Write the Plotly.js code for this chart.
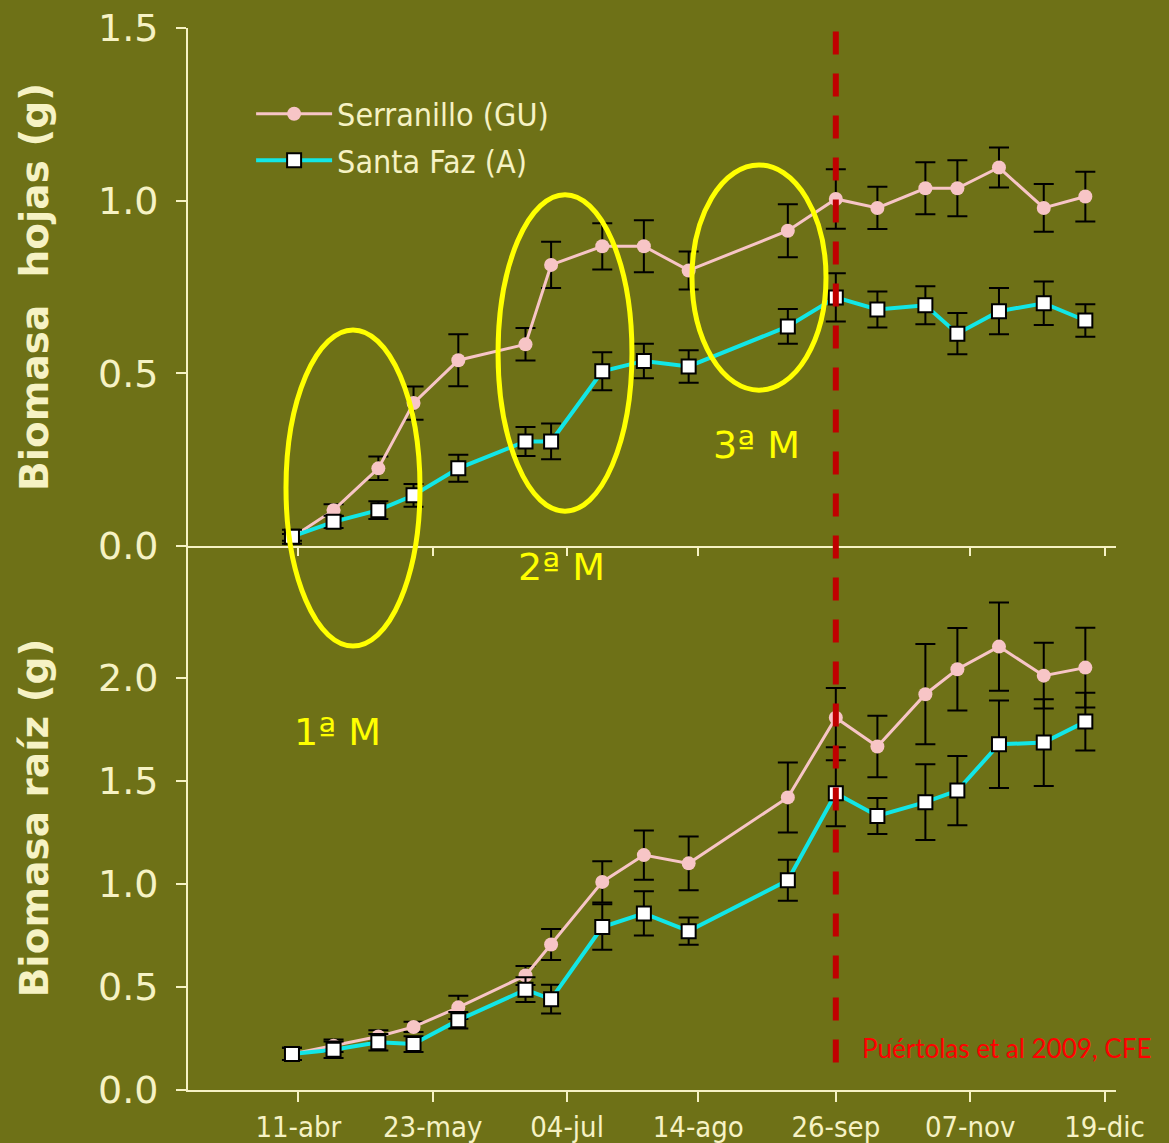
<!DOCTYPE html>
<html><head><meta charset="utf-8">
<script src="https://cdn.plot.ly/plotly-3.0.1.min.js"></script>
<style>html,body{margin:0;padding:0;background:#6E7117;} #chart{width:1169px;height:1143px;}</style>
</head><body><div id="chart"></div>
<script>
// Sampling dates (approximate)
const fechas = ['2007-04-09','2007-04-22','2007-05-06','2007-05-17','2007-05-31','2007-06-21','2007-06-29',
  '2007-07-15','2007-07-28','2007-08-11','2007-09-11','2007-09-26','2007-10-09','2007-10-24','2007-11-03',
  '2007-11-16','2007-11-30','2007-12-13'];

// Biomasa hojas (g)
const hojasSerranillo    = [0.025,0.104,0.225,0.414,0.538,0.584,0.814,0.868,0.868,0.798,0.913,1.005,0.979,1.036,1.036,1.096,0.979,1.012];
const hojasSerranilloErr = [0.010,0.017,0.034,0.048,0.075,0.047,0.067,0.067,0.075,0.055,0.077,0.086,0.061,0.075,0.081,0.058,0.069,0.072];
const hojasSantaFaz      = [0.027,0.070,0.104,0.147,0.225,0.303,0.303,0.506,0.536,0.520,0.636,0.720,0.685,0.697,0.615,0.680,0.703,0.653];
const hojasSantaFazErr   = [0.020,0.018,0.026,0.033,0.039,0.042,0.052,0.055,0.050,0.047,0.050,0.070,0.052,0.055,0.060,0.067,0.063,0.047];

// Biomasa raíz (g)
const raizSerranillo     = [0.175,0.215,0.260,0.306,0.401,0.556,0.706,1.010,1.140,1.100,1.420,1.807,1.667,1.921,2.042,2.152,2.011,2.050];
const raizSerranilloErr  = [0.030,0.030,0.030,0.025,0.056,0.046,0.075,0.100,0.120,0.130,0.170,0.144,0.149,0.243,0.200,0.214,0.160,0.194];
const raizSantaFaz       = [0.175,0.195,0.232,0.223,0.339,0.487,0.441,0.791,0.857,0.771,1.018,1.440,1.330,1.397,1.453,1.678,1.686,1.788];
const raizSantaFazErr    = [0.030,0.040,0.040,0.038,0.040,0.060,0.070,0.110,0.107,0.066,0.100,0.160,0.087,0.184,0.168,0.212,0.210,0.140];

// Axis ticks
const tickFechas    = ['2007-04-11','2007-05-23','2007-07-04','2007-08-14','2007-09-26','2007-11-07','2007-12-19'];
const tickEtiquetas = ['11-abr','23-may','04-jul','14-ago','26-sep','07-nov','19-dic'];
const yTicksHojas   = [0, 0.5, 1, 1.5];
const yTicksRaiz    = [0, 0.5, 1, 1.5, 2];
const xRango = ['2007-03-07 12:00','2007-12-22 14:00'];
const fechaTrasplante = '2007-09-26';

const serieNombres = ['Serranillo (GU)','Santa Faz (A)'];

const bg = '#6E7117';
const cream = '#F6F2C4';
const pink = '#F7C5C6';
const cyan = '#12E6E6';

function errBar(arr){ return {type:'data', array:arr, visible:true, color:'#000000', thickness:2, width:10}; }

const serStyle = {mode:'lines+markers', line:{color:pink, width:3},
  marker:{symbol:'circle', size:14, color:pink, line:{width:0}}};
const sfStyle = {mode:'lines+markers', line:{color:cyan, width:4},
  marker:{symbol:'square', size:14, color:'#FFFFFF', line:{color:'#000000', width:2}}};

const traces = [
  Object.assign({x:fechas, y:hojasSerranillo, error_y:errBar(hojasSerranilloErr), name:serieNombres[0],
    xaxis:'x2', yaxis:'y2', legendgroup:'ser', showlegend:true}, serStyle),
  Object.assign({x:fechas, y:hojasSantaFaz, error_y:errBar(hojasSantaFazErr), name:serieNombres[1],
    xaxis:'x2', yaxis:'y2', legendgroup:'sf', showlegend:true}, sfStyle),
  Object.assign({x:fechas, y:raizSerranillo, error_y:errBar(raizSerranilloErr), name:serieNombres[0],
    xaxis:'x', yaxis:'y', legendgroup:'ser', showlegend:false}, serStyle),
  Object.assign({x:fechas, y:raizSantaFaz, error_y:errBar(raizSantaFazErr), name:serieNombres[1],
    xaxis:'x', yaxis:'y', legendgroup:'sf', showlegend:false}, sfStyle)
];

const tickFontY = {family:'"DejaVu Sans", sans-serif', size:38, color:cream};
const tickFontX = {family:'"DejaVu Sans Condensed", "DejaVu Sans", sans-serif', size:29, color:cream};
const titleFont = {family:'"DejaVu Sans", sans-serif', size:39, color:cream, weight:'bold'};
const markFont = {family:'"DejaVu Sans", sans-serif', size:38, color:'#FFFF00'};

const axisCommon = {showgrid:false, zeroline:false, showline:true, linecolor:cream, linewidth:2,
  ticks:'outside', tickcolor:cream, tickwidth:2};

const ySplit = 0.5122;

const layout = {
  width:1169, height:1143,
  paper_bgcolor:bg, plot_bgcolor:bg,
  margin:{l:188, r:53, t:28, b:53},
  font:{family:'"DejaVu Sans", sans-serif', color:cream},
  xaxis: Object.assign({}, axisCommon, {anchor:'y', type:'date', range:xRango, tickmode:'array',
    tickvals:tickFechas, ticktext:tickEtiquetas, ticklen:10, tickfont:tickFontX}),
  xaxis2: Object.assign({}, axisCommon, {anchor:'y2', type:'date', range:xRango, matches:'x', tickmode:'array',
    tickvals:tickFechas, ticktext:tickEtiquetas, showticklabels:false, ticklen:8}),
  yaxis: Object.assign({}, axisCommon, {domain:[0, ySplit], range:[0, 2.64], tickmode:'array',
    tickvals:yTicksRaiz, tickformat:'.1f', ticklen:10, ticklabelstandoff:10, tickfont:tickFontY,
    title:{text:'Biomasa raíz (g)', font:titleFont, standoff:37}}),
  yaxis2: Object.assign({}, axisCommon, {domain:[ySplit, 1], range:[0, 1.5], tickmode:'array',
    tickvals:yTicksHojas, tickformat:'.1f', ticklen:10, ticklabelstandoff:10, tickfont:tickFontY,
    title:{text:'Biomasa  hojas (g)', font:titleFont, standoff:37}}),
  legend:{x:0.068, y:0.945, xanchor:'left', yanchor:'top', bgcolor:'rgba(0,0,0,0)',
    font:{family:'"DejaVu Sans Condensed", "DejaVu Sans", sans-serif', size:32, color:cream},
    itemwidth:76, tracegroupgap:2},
  shapes:[
    {type:'circle', xref:'paper', yref:'paper', x0:0.1056, x1:0.2500, y0:0.418, y1:0.7156,
      line:{color:'#FFFF00', width:5}},
    {type:'circle', xref:'paper', yref:'paper', x0:0.3341, x1:0.4784, y0:0.545, y1:0.843,
      line:{color:'#FFFF00', width:5}},
    {type:'circle', xref:'paper', yref:'paper', x0:0.5431, x1:0.6875, y0:0.659, y1:0.871,
      line:{color:'#FFFF00', width:5}},
    {type:'line', xref:'x', yref:'paper', x0:fechaTrasplante, x1:fechaTrasplante, y0:0.026, y1:0.998,
      line:{color:'#C00000', width:6, dash:'23px,19px'}}
  ],
  annotations:[
    {text:'1ª M', xref:'paper', yref:'paper', x:0.1616, y:0.337, xanchor:'center', yanchor:'middle',
      showarrow:false, font:markFont},
    {text:'2ª M', xref:'paper', yref:'paper', x:0.403, y:0.4925, xanchor:'center', yanchor:'middle',
      showarrow:false, font:markFont},
    {text:'3ª M', xref:'paper', yref:'paper', x:0.613, y:0.607, xanchor:'center', yanchor:'middle',
      showarrow:false, font:markFont},
    {text:'Puértolas et al 2009, CFE', xref:'paper', yref:'paper', x:0.8825, y:0.0395,
      xanchor:'center', yanchor:'middle', showarrow:false,
      font:{family:'Lato, "Open Sans", sans-serif', size:26, color:'#FF0000'}}
  ]
};

Plotly.newPlot('chart', traces, layout, {displayModeBar:false, staticPlot:true});
</script>
</body></html>
